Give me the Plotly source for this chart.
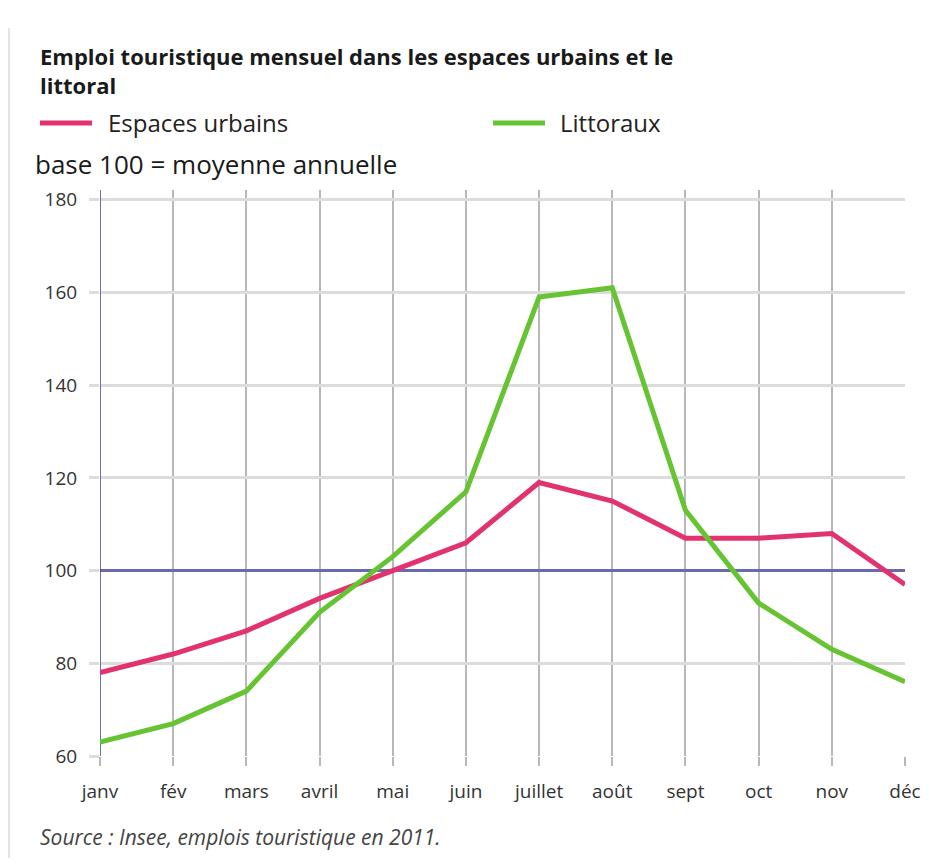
import plotly.graph_objects as go

months = ["janv", "fév", "mars", "avril", "mai", "juin", "juillet", "août", "sept", "oct", "nov", "déc"]
urbains = [78, 82, 87, 94, 100, 106, 119, 115, 107, 107, 108, 97]
littoraux = [63, 67, 74, 91, 103, 117, 159, 161, 113, 93, 83, 76]
y_ticks = [60, 80, 100, 120, 140, 160, 180]

title_text = "Emploi touristique mensuel dans les espaces urbains et le<br>littoral"
subtitle_text = "base 100 = moyenne annuelle"
source_text = "Source : Insee, emplois touristique en 2011."
names = ["Espaces urbains", "Littoraux"]
colors = ["#e2336f", "#66c332"]

# page has an 8px body margin: figure occupies page x 8.., y 8..
OFF = 8
W, H = 922, 850
L, R, T, B = 100 - OFF, 25, 190 - OFF, 102
PW, PH = W - L - R, H - T - B

def px(xp):
    return (xp - OFF - L) / PW

def py(yp):
    return (H - B - (yp - OFF)) / PH

FONT = "Open Sans"

fig = go.Figure()
for name, vals, col in zip(names, [urbains, littoraux], colors):
    fig.add_trace(go.Scatter(x=months, y=vals, mode="lines", name=name,
                             line=dict(color=col, width=5), showlegend=False))

shapes = []
shapes.append(dict(type="line", xref="x", yref="y", x0=0, x1=11.2, y0=100, y1=100,
                   line=dict(color="#6a6aae", width=3), layer="between"))
shapes.append(dict(type="line", xref="x", yref="y", x0=0, x1=0, y0=60, y1=184,
                   line=dict(color="#3f3f90", width=1.5), layer="between"))
shapes.append(dict(type="line", xref="paper", yref="paper", x0=px(9), x1=px(9),
                   y0=py(858), y1=py(28), line=dict(color="#e3e3e3", width=2)))
shapes.append(dict(type="line", xref="paper", yref="paper", x0=px(40), x1=px(92),
                   y0=py(123), y1=py(123), line=dict(color=colors[0], width=5)))
shapes.append(dict(type="line", xref="paper", yref="paper", x0=px(493), x1=px(545),
                   y0=py(123), y1=py(123), line=dict(color=colors[1], width=5)))

def ann(text, x, y, size, color, yanchor="middle"):
    return dict(text=text, xref="paper", yref="paper", x=px(x), y=py(y),
                xanchor="left", yanchor=yanchor, showarrow=False, align="left",
                font=dict(family=FONT, size=size, color=color))

annotations = [
    ann("<b>" + title_text + "</b>", 38, 70, 22, "#1a1a1a"),
    ann(names[0], 106, 122, 24, "#222"),
    ann(names[1], 558, 122, 24, "#222"),
    ann(subtitle_text, 33, 164, 26, "#1a1a1a"),
    ann("<i>" + source_text + "</i>", 38, 837, 21, "#444"),
]

fig.update_layout(
    width=W, height=H,
    margin=dict(l=L, r=R, t=T, b=B),
    paper_bgcolor="white", plot_bgcolor="white",
    showlegend=False,
    shapes=shapes, annotations=annotations,
    font=dict(family=FONT, color="#333"),
)
fig.update_xaxes(type="category", range=[0, 11], showgrid=True, gridcolor="#b8b8b8", gridwidth=1.5,
                 ticks="outside", ticklen=9, tickcolor="#b8b8b8", tickwidth=1.5,
                 showline=False, zeroline=False, ticklabelstandoff=9, automargin=False,
                 ticklabeloverflow="allow",
                 tickfont=dict(family=FONT, size=19, color="#333"))
fig.update_yaxes(range=[60, 182.1], tickvals=y_ticks, showgrid=True, gridcolor="#dcdcdc", gridwidth=3,
                 ticks="outside", ticklen=10, tickcolor="#dcdcdc", tickwidth=3,
                 showline=False, zeroline=False, ticklabelstandoff=8, automargin=False,
                 tickfont=dict(family=FONT, size=19, color="#333"))

fig.write_html("out.html")
